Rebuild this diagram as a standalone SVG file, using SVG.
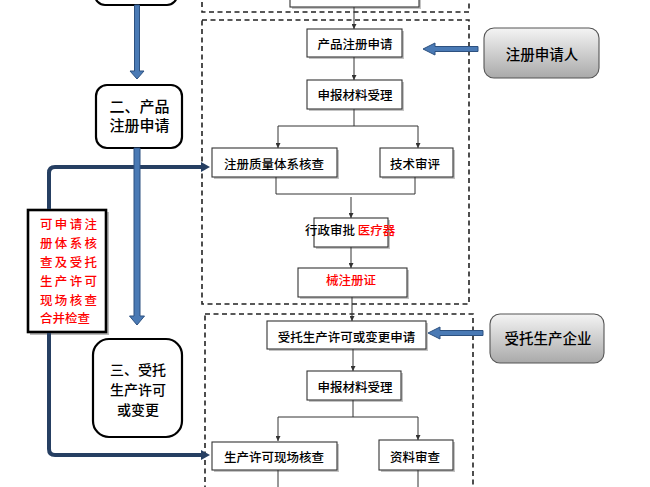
<svg xmlns="http://www.w3.org/2000/svg" width="650" height="487" viewBox="0 0 650 487">
<defs>
<style>
text{font-family:"Noto Sans CJK SC","Noto Sans",sans-serif;fill:#000;dominant-baseline:central;text-anchor:middle;font-weight:500}
.nd{fill:#fff;stroke:#333;stroke-width:1.1}
.sh{fill:#c4c4c4}
.t{font-size:12.5px}
.big{font-size:14.5px}
.red{fill:#f00}
.step{fill:#fff;stroke:#000;stroke-width:2.2}
.dash{fill:none;stroke:#222;stroke-width:1.6;stroke-dasharray:5,3.5}
.ln{fill:none;stroke:#333;stroke-width:1}
.ar{fill:none;stroke:#333;stroke-width:1;marker-end:url(#ah)}
.navy{fill:none;stroke:#263f62;stroke-width:4;stroke-linejoin:round}
.blue{fill:#4a7ab5;stroke:#2d5180;stroke-width:1}
.gr{fill:url(#gg);stroke:#555;stroke-width:1.1}
</style>
<linearGradient id="gg" x1="0" y1="0" x2="0" y2="1">
<stop offset="0" stop-color="#f4f4f4"/>
<stop offset="1" stop-color="#a9a9a9"/>
</linearGradient>
<marker id="ah" viewBox="0 0 8 8" refX="8" refY="4" markerWidth="5" markerHeight="5" orient="auto" markerUnits="userSpaceOnUse">
<path d="M0,0 L8,4 L0,8 Z" fill="#333"/>
</marker>
</defs>

<!-- dashed stage containers -->
<g id="containers">
<rect class="dash" x="202" y="-10" width="267" height="22"/>
<rect class="dash" x="202" y="20" width="267" height="284"/>
<rect class="dash" x="205" y="314" width="268" height="190"/>
</g>

<!-- left step nodes -->
<g id="step1">
<rect class="step" x="95" y="-40" width="82" height="45" rx="10"/>
</g>
<g id="step2">
<rect class="step" x="96" y="85" width="86" height="63" rx="11"/>
<text x="139.5" y="105" style="font-size:15px">二、产品</text>
<text x="139.5" y="124" style="font-size:15px">注册申请</text>
</g>
<g id="step3">
<rect class="step" x="93" y="339" width="89" height="98" rx="16"/>
<text x="138" y="369" style="font-size:14px">三、受托</text>
<text x="138" y="389" style="font-size:14px">生产许可</text>
<text x="138" y="409" style="font-size:14px">或变更</text>
</g>
<g id="note">
<rect x="30" y="212" width="79" height="123" fill="#bbb"/>
<rect x="28" y="210" width="78" height="122" fill="#fff" stroke="#000" stroke-width="2.6"/>
<text class="t red" x="40" y="223" style="text-anchor:start" textLength="57" lengthAdjust="spacing">可申请注</text>
<text class="t red" x="40" y="242" style="text-anchor:start" textLength="57" lengthAdjust="spacing">册体系核</text>
<text class="t red" x="40" y="261" style="text-anchor:start" textLength="57" lengthAdjust="spacing">查及受托</text>
<text class="t red" x="40" y="280" style="text-anchor:start" textLength="57" lengthAdjust="spacing">生产许可</text>
<text class="t red" x="40" y="299" style="text-anchor:start" textLength="57" lengthAdjust="spacing">现场核查</text>
<text class="t red" x="40" y="317" style="text-anchor:start">合并检查</text>
</g>

<!-- process nodes, registration -->
<g id="prev">
<rect class="sh" x="292" y="-20" width="129" height="29"/>
<rect class="nd" x="290" y="-22" width="129" height="29"/>
</g>
<g id="n_apply">
<rect class="sh" x="309" y="31" width="95" height="28"/>
<rect class="nd" x="307" y="29" width="95" height="28"/>
<text class="t" x="355" y="43">产品注册申请</text>
</g>
<g id="n_accept1">
<rect class="sh" x="309" y="82" width="95" height="29"/>
<rect class="nd" x="307" y="80" width="95" height="29"/>
<text class="t" x="355" y="94">申报材料受理</text>
</g>
<g id="n_qms">
<rect class="sh" x="214" y="150" width="125" height="29"/>
<rect class="nd" x="212" y="148" width="125" height="29"/>
<text class="t" x="274" y="163">注册质量体系核查</text>
</g>
<g id="n_tech">
<rect class="sh" x="382" y="150" width="73" height="29"/>
<rect class="nd" x="380" y="148" width="73" height="29"/>
<text class="t" x="415" y="163">技术审评</text>
</g>
<g id="n_admin">
<rect class="sh" x="316" y="220" width="74" height="29"/>
<rect class="nd" x="314" y="218" width="74" height="29"/>
<text class="t" x="305" y="229" style="text-anchor:start">行政审批 <tspan class="red">医疗器</tspan></text>
</g>
<g id="n_cert">
<rect class="sh" x="300" y="270" width="109" height="29"/>
<rect class="nd" x="298" y="268" width="109" height="29"/>
<text class="t red" x="351" y="279">械注册证</text>
</g>

<!-- process nodes, commissioned production -->
<g id="n_apply2">
<rect class="sh" x="269" y="323" width="159" height="28"/>
<rect class="nd" x="267" y="321" width="159" height="28"/>
<text class="t" x="346.5" y="336">受托生产许可或变更申请</text>
</g>
<g id="n_accept2">
<rect class="sh" x="309" y="373" width="94" height="29"/>
<rect class="nd" x="307" y="371" width="94" height="29"/>
<text class="t" x="355" y="386">申报材料受理</text>
</g>
<g id="n_site">
<rect class="sh" x="214" y="444" width="125" height="28"/>
<rect class="nd" x="212" y="442" width="125" height="28"/>
<text class="t" x="274" y="456">生产许可现场核查</text>
</g>
<g id="n_doc">
<rect class="sh" x="381" y="442" width="74" height="30"/>
<rect class="nd" x="379" y="440" width="74" height="30"/>
<text class="t" x="415" y="456">资料审查</text>
</g>

<!-- actors -->
<g id="a_applicant">
<rect class="gr" x="484" y="28" width="115" height="50" rx="10"/>
<text class="big" x="542" y="53">注册申请人</text>
</g>
<g id="a_enterprise">
<rect class="gr" x="490" y="314" width="114" height="49" rx="10"/>
<text class="big" x="548" y="337">受托生产企业</text>
</g>

<!-- connectors -->
<g id="connectors">
<path class="ar" d="M354,7 V29"/>
<path class="ar" d="M354,57 V80"/>
<path class="ln" d="M354,109 V126 M278,126 H418"/>
<path class="ar" d="M278,126 V148"/>
<path class="ar" d="M418,126 V148"/>
<path class="ln" d="M276,177 V194 H415 V177"/>
<path class="ar" d="M351,197 V218"/>
<path class="ar" d="M351,247 V268"/>
<path class="ar" d="M352,297 V321"/>
<path class="ar" d="M353,349 V371"/>
<path class="ln" d="M353,400 V417 M278,417 H418"/>
<path class="ar" d="M278,417 V441"/>
<path class="ar" d="M418,417 V440"/>
<path class="ln" d="M278,470 V487 M418,470 V487"/>

<path class="navy" d="M49,209 V173 Q49,167 55,167 H203"/>
<path d="M210,167 L201,162 L201,172 Z" fill="#263f62"/>
<path class="navy" d="M49,333 V449 Q49,455 55,455 H203"/>
<path d="M210,455 L201,450 L201,460 Z" fill="#263f62"/>

<path class="blue" d="M134.5,5 H139.5 V71 H144 L137,79 L130,71 H134.5 Z"/>
<path class="blue" d="M134,148 H140 V316 H144.5 L137,325 L129.5,316 H134 Z"/>
<path class="blue" d="M478,46.5 H435 V43 L423,49 L435,55 V51.5 H478 Z"/>
<path class="blue" d="M483,330.5 H440 V327 L428,333 L440,339 V335.5 H483 Z"/>
</g>
</svg>
